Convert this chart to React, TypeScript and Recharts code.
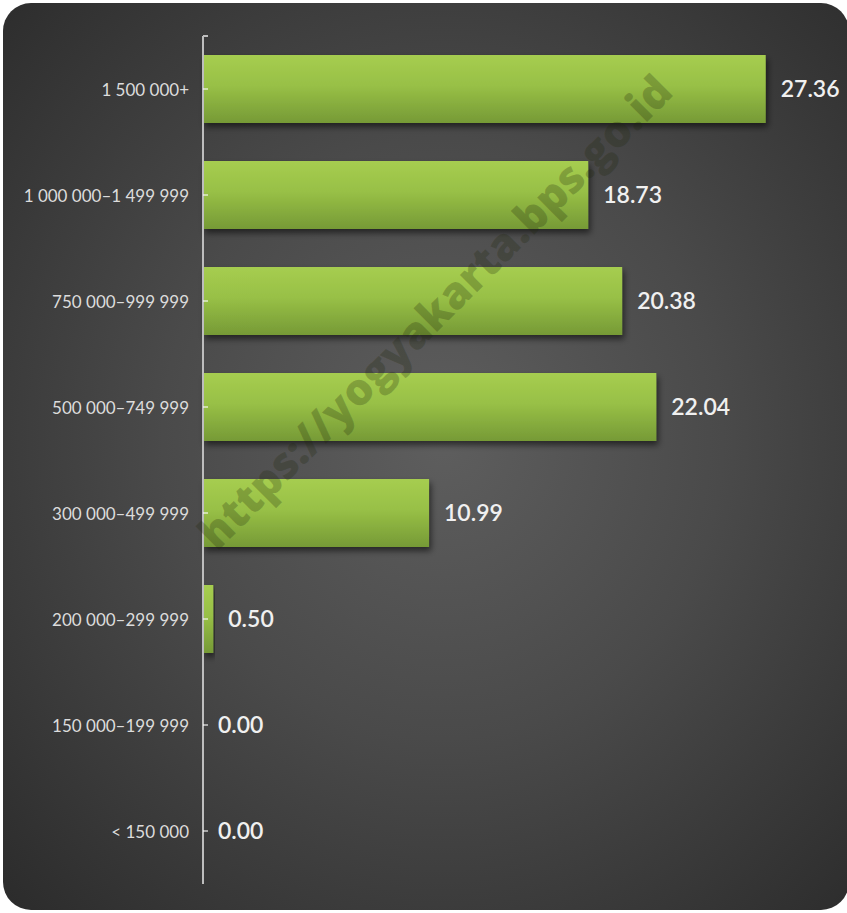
import { BarChart, Bar, XAxis, YAxis, LabelList } from 'recharts';

const categories = [
    '1 500 000+',
    '1 000 000–1 499 999',
    '750 000–999 999',
    '500 000–749 999',
    '300 000–499 999',
    '200 000–299 999',
    '150 000–199 999',
    '< 150 000',
];
const values = [27.36, 18.73, 20.38, 22.04, 10.99, 0.5, 0.0, 0.0];

const data = categories.map((name, i) => ({ name, value: values[i] }));

const FONT = 'Lato, "Open Sans", sans-serif';
const AXIS_X = 203;

const CategoryTick = (props: any) => {
    const { x, y, payload, index } = props;
    return (
        <g>
            {index === 0 && (
                <line x1={AXIS_X} y1={y - 53} x2={AXIS_X + 5} y2={y - 53} stroke="#bdbdbd" strokeWidth={2} />
            )}
            <line x1={AXIS_X} y1={y} x2={AXIS_X + 5} y2={y} stroke="rgba(255,255,255,0.55)" strokeWidth={2} />
            <text x={x} y={y} textAnchor="end" dominantBaseline="central" fill="#dcdcdc" fontSize={17} fontFamily={FONT}>
                {payload.value}
            </text>
        </g>
    );
};

export default function App() {
    return (
        <div style={{ position: 'absolute', left: 0, top: 0, width: 847, height: 913, background: '#fff' }}>
            <svg width={0} height={0} style={{ position: 'absolute' }}>
                <defs>
                    <linearGradient id="barFill" x1="0" y1="0" x2="0" y2="1">
                        <stop offset="0%" stopColor="#a6cd50" />
                        <stop offset="45%" stopColor="#98c046" />
                        <stop offset="100%" stopColor="#769a36" />
                    </linearGradient>
                    <filter id="barShadow" x="-5%" y="-20%" width="115%" height="150%">
                        <feDropShadow dx="2" dy="4" stdDeviation="3" floodColor="#000" floodOpacity="0.55" />
                    </filter>
                </defs>
            </svg>
            <div
                style={{
                    position: 'absolute',
                    left: 3,
                    top: 3,
                    width: 846,
                    height: 907,
                    borderRadius: 28,
                    background: 'radial-gradient(ellipse at 52% 48%, #5e5e5e 0%, #4a4a4a 45%, #2b2b2b 100%)',
                }}
            />
            <div style={{ position: 'absolute', left: 0, top: 0 }}>
                <BarChart
                    width={847}
                    height={913}
                    data={data}
                    layout="vertical"
                    margin={{ top: 36, right: 27, left: 0, bottom: 29 }}
                    barCategoryGap={19}
                >
                    <XAxis type="number" domain={[0, 30]} hide />
                    <YAxis
                        type="category"
                        dataKey="name"
                        width={AXIS_X}
                        axisLine={{ stroke: '#bdbdbd', strokeWidth: 2 }}
                        tickLine={false}
                        tickMargin={8}
                        tick={<CategoryTick />}
                        interval={0}
                    />
                    <Bar
                        dataKey="value"
                        fill="url(#barFill)"
                        filter="url(#barShadow)"
                        barSize={68}
                        minPointSize={0.01}
                        isAnimationActive={false}
                    >
                        <LabelList
                            dataKey="value"
                            position="right"
                            offset={15}
                            formatter={(v: any) => Number(v).toFixed(2)}
                            fill="#f0f0f0"
                            fontSize={23}
                            fontWeight={600}
                            fontFamily={FONT}
                        />
                    </Bar>
                </BarChart>
            </div>
            <svg width={847} height={913} style={{ position: 'absolute', left: 0, top: 0, pointerEvents: 'none' }}>
                <text
                    x={434}
                    y={311}
                    transform="rotate(-45 434 311)"
                    textAnchor="middle"
                    dominantBaseline="central"
                    fontFamily='"Open Sans", "DejaVu Sans", sans-serif'
                    fontWeight={800}
                    fontSize={44}
                    fill="#1e260a"
                    fillOpacity={0.25}
                >
                    https://yogyakarta.bps.go.id
                </text>
            </svg>
        </div>
    );
}
